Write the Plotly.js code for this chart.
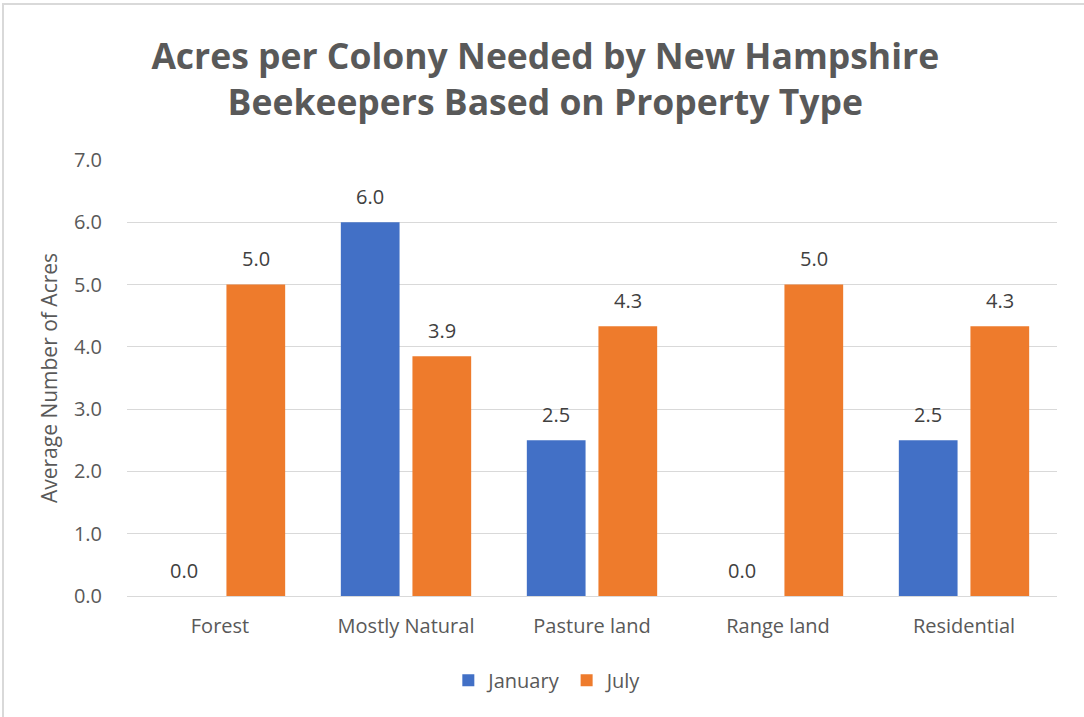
<!DOCTYPE html>
<html>
<head>
<meta charset="utf-8">
<script src="https://cdn.plot.ly/plotly-3.0.1.min.js"></script>
<style>
  html, body { margin: 0; padding: 0; background: #fff; }
  #chart { width: 1084px; height: 717px; position: absolute; left: 0; top: 0; }
  #frame { position: absolute; left: 2px; top: 3px; width: 1090px; height: 720px;
           border-left: 2px solid #d9d9d9; border-top: 2px solid #d9d9d9; pointer-events: none; }
</style>
</head>
<body>
<div id="chart"></div>
<div id="frame"></div>
<script>
const categories = ["Forest", "Mostly Natural", "Pasture land", "Range land", "Residential"];
const january = [0.0, 6.0, 2.5, 0.0, 2.5];
const july = [5.0, 3.85, 4.33, 5.0, 4.33];
const yTicks = [0, 1, 2, 3, 4, 5, 6, 7];

const FONT = "Open Sans";
const W = 1084, H = 717;
const M = { l: 127, r: 27, t: 160, b: 121 };
const BARGAP = 0.23, BARGROUPGAP = 0.18;

const traces = [
  { type: "bar", name: "January", x: categories, y: january,
    marker: { color: "#4270c6" }, hoverinfo: "skip" },
  { type: "bar", name: "July", x: categories, y: july,
    marker: { color: "#ee7b2c" }, hoverinfo: "skip" }
];

// data labels placed above each bar through the axis scales
const catPx = (W - M.l - M.r) / categories.length;
const slotPx = catPx * (1 - BARGAP) / 2;
const annotations = [];
[[january, -slotPx / 2], [july, slotPx / 2]].forEach(([vals, shift]) => {
  vals.forEach((v, i) => {
    annotations.push({
      x: categories[i], y: v, xref: "x", yref: "y",
      text: v.toFixed(1), showarrow: false,
      xanchor: "center", yanchor: "middle",
      xshift: shift, yshift: 26,
      font: { family: FONT, size: 20, color: "#404040" }
    });
  });
});

const layout = {
  width: W, height: H,
  paper_bgcolor: "#ffffff", plot_bgcolor: "#ffffff",
  margin: M,
  title: {
    text: "Acres per Colony Needed by New Hampshire<br>Beekeepers Based on Property Type",
    font: { family: FONT, size: 35.5, color: "#595959", weight: "bold" },
    x: 0.503, xanchor: "center", xref: "container",
    y: 1 - 69 / H, yanchor: "middle", yref: "container"
  },
  barmode: "group", bargap: BARGAP, bargroupgap: BARGROUPGAP,
  xaxis: {
    showgrid: false, showline: false, zeroline: false,
    tickfont: { family: FONT, size: 20, color: "#595959" },
    ticks: "", ticklabelstandoff: 16
  },
  yaxis: {
    range: [0, 7], tickvals: yTicks, tickformat: ".1f",
    showgrid: true, gridcolor: "#d9d9d9", gridwidth: 1,
    zeroline: true, zerolinecolor: "#d9d9d9", zerolinewidth: 1,
    showline: false, ticks: "",
    tickfont: { family: FONT, size: 20, color: "#595959" },
    ticklabelstandoff: 24,
    title: { text: "Average Number of Acres", font: { family: FONT, size: 21, color: "#595959" }, standoff: 10 }
  },
  annotations: annotations,
  showlegend: true,
  legend: {
    orientation: "h", x: 0.4525, xanchor: "center", y: -0.193, yanchor: "middle",
    font: { family: FONT, size: 20, color: "#595959" }, itemwidth: 30,
    traceorder: "normal"
  }
};

Plotly.newPlot("chart", traces, layout, { staticPlot: true, displayModeBar: false });
</script>
</body>
</html>
